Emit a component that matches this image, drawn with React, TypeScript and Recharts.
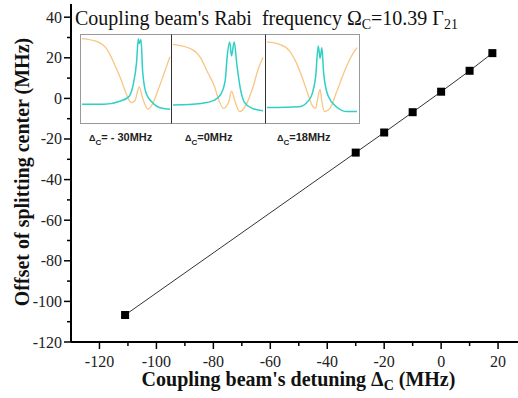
import React from "react"
import { ComposedChart, LineChart, Line, XAxis, YAxis } from "recharts"

// main series: coupling detuning vs splitting centre offset (MHz)
const detuning = [-111, -30, -20, -10, 0, 10, 18]
const offset = [-106.7, -26.7, -16.8, -6.8, 3.3, 13.6, 22.3]

const xTicks = [-120, -110, -100, -90, -80, -70, -60, -50, -40, -30, -20, -10, 0, 10, 20]
const xLabels = [-120, -100, -80, -60, -40, -20, 0, 20]
const yTicks = [-120, -110, -100, -90, -80, -70, -60, -50, -40, -30, -20, -10, 0, 10, 20, 30, 40]
const yLabels = [-120, -100, -80, -60, -40, -20, 0, 20, 40]

// inset spectra (relative units, 0-100)
const p1OrangeX = [0, 18, 29, 36, 44, 51, 56, 60, 65, 69, 75, 80, 87, 95, 100]
const p1OrangeY = [98, 94, 84, 69, 49, 29, 20, 22, 39, 25, 12, 18, 37, 61, 76]
const p1CyanX = [0, 25, 44, 53, 58, 62, 64, 65, 67, 69, 73, 80, 91, 100]
const p1CyanY = [18, 18, 22, 27, 41, 69, 98, 92, 97, 57, 31, 20, 13, 12]

const p2OrangeX = [0, 21, 31, 38, 46, 51, 56, 62, 65, 69, 74, 81, 88, 95, 100]
const p2OrangeY = [91, 85, 74, 58, 40, 23, 13, 21, 34, 21, 9, 17, 36, 62, 75]
const p2CyanX = [0, 31, 46, 53, 58, 60, 63, 65, 68, 71, 75, 79, 88, 100]
const p2CyanY = [17, 19, 23, 30, 47, 74, 94, 77, 94, 66, 36, 21, 13, 10]

const p3OrangeX = [0, 14, 25, 32, 39, 45, 50, 54, 56, 59, 61, 64, 70, 77, 86, 93, 100]
const p3OrangeY = [94, 91, 83, 70, 51, 32, 17, 13, 23, 36, 21, 9, 13, 32, 58, 75, 87]
const p3CyanX = [0, 36, 45, 50, 54, 57, 59, 61, 63, 68, 77, 89, 100]
const p3CyanY = [14, 15, 21, 30, 51, 89, 74, 87, 55, 28, 15, 9, 9]

const insetLabels = ["= - 30MHz", "=0MHz", "=18MHz"]

const zip = (xs: number[], ys: number[]) => xs.map((x, i) => ({ x, y: ys[i] }))

const mainData = zip(detuning, offset)

const panels = [
  { left: 80, width: 92, orange: zip(p1OrangeX, p1OrangeY), cyan: zip(p1CyanX, p1CyanY), labelLeft: 89, rightColor: "#333" },
  { left: 172, width: 94, orange: zip(p2OrangeX, p2OrangeY), cyan: zip(p2CyanX, p2CyanY), labelLeft: 185, rightColor: "#333" },
  { left: 266, width: 94, orange: zip(p3OrangeX, p3OrangeY), cyan: zip(p3CyanX, p3CyanY), labelLeft: 277, rightColor: "#999" },
]

const SERIF = "Liberation Serif"

const XTick = (props: any) => {
  const { x, y, payload } = props
  const major = xLabels.includes(payload.value)
  return (
    <g fontFamily={SERIF}>
      <line x1={x} x2={x} y1={y} y2={y + (major ? 7 : 4)} stroke="#000" strokeWidth={1.5} />
      {major && (
        <text x={x} y={y + 19} textAnchor="middle" dominantBaseline="central" fontSize={16} fill="#222" fontFamily={SERIF}>
          {payload.value}
        </text>
      )}
    </g>
  )
}

const YTick = (props: any) => {
  const { x, y, payload } = props
  const major = yLabels.includes(payload.value)
  return (
    <g fontFamily={SERIF}>
      <line x1={x} x2={x - (major ? 7 : 4)} y1={y} y2={y} stroke="#000" strokeWidth={1.5} />
      {major && (
        <text x={x - 9} y={y} textAnchor="end" dominantBaseline="central" fontSize={16} fill="#222" fontFamily={SERIF}>
          {payload.value}
        </text>
      )}
    </g>
  )
}

const Square = (props: any) => {
  const { cx, cy } = props
  return <rect x={cx - 4} y={cy - 4} width={8} height={8} fill="#000" />
}

const sub = { fontSize: 14, position: "relative" as const, top: 4 }

export default function App() {
  return (
    <div style={{ position: "absolute", left: 0, top: 0, width: 518, height: 398, overflow: "hidden", background: "#fff", fontFamily: SERIF }}>
      <ComposedChart width={518} height={398} data={mainData} margin={{ top: 4, right: 0, bottom: 0, left: 0 }}>
        <XAxis
          dataKey="x"
          type="number"
          domain={[-130, 27]}
          ticks={xTicks}
          interval={0}
          tick={<XTick />}
          tickLine={false}
          tickSize={0}
          tickMargin={0}
          height={56}
          axisLine={{ stroke: "#000", strokeWidth: 2 }}
          allowDataOverflow
        />
        <XAxis xAxisId="top" orientation="top" type="number" domain={[-130, 27]} height={0} tick={false} tickLine={false} axisLine={{ stroke: "#000", strokeWidth: 2 }} />
        <YAxis
          type="number"
          domain={[-120, 46.5]}
          ticks={yTicks}
          interval={0}
          tick={<YTick />}
          tickLine={false}
          tickSize={0}
          tickMargin={0}
          width={71}
          axisLine={{ stroke: "#000", strokeWidth: 2 }}
          allowDataOverflow
        />
        <Line dataKey="y" type="linear" stroke="#333" strokeWidth={1} dot={<Square />} activeDot={false} isAnimationActive={false} />
      </ComposedChart>

      <div style={{ position: "absolute", left: 75, top: 8, fontSize: 20, lineHeight: 1, whiteSpace: "nowrap", color: "#111" }}>
        Coupling beam's Rabi&nbsp; frequency Ω<span style={sub}>C</span>=10.39 Γ<span style={sub}>21</span>
      </div>

      {panels.map((p, i) => (
        <div key={i}>
          <div
            style={{
              position: "absolute",
              left: p.left,
              top: 34,
              width: p.width,
              height: 90,
              boxSizing: "border-box",
              borderTop: "1px solid #999",
              borderBottom: "1px solid #999",
              borderLeft: i === 0 ? "1px solid #999" : "none",
              borderRight: "1px solid " + p.rightColor,
              background: "#fff",
            }}
          >
            <LineChart width={p.width - 2} height={86} margin={{ top: 2, right: 1, bottom: 2, left: 1 }}>
              <XAxis dataKey="x" type="number" domain={[0, 100]} hide />
              <YAxis type="number" domain={[0, 100]} hide />
              <Line data={p.orange} dataKey="y" type="monotone" stroke="#f8c684" strokeWidth={1.3} dot={false} isAnimationActive={false} />
              <Line data={p.cyan} dataKey="y" type="monotone" stroke="#2fd0c6" strokeWidth={1.5} dot={false} isAnimationActive={false} />
            </LineChart>
          </div>
          <div style={{ position: "absolute", left: p.labelLeft, top: 132, fontFamily: "'Liberation Sans', sans-serif", fontWeight: "bold", fontSize: 11, lineHeight: 1, whiteSpace: "nowrap", color: "#222" }}>
            <span style={{ fontSize: 9 }}>Δ</span>
            <span style={{ fontSize: 8, position: "relative", top: 4 }}>C</span>
            {insetLabels[i]}
          </div>
        </div>
      ))}

      <div style={{ position: "absolute", left: 0, width: 597, top: 369, fontSize: 20, fontWeight: "bold", lineHeight: 1, textAlign: "center", whiteSpace: "nowrap", color: "#111" }}>
        Coupling beam's detuning Δ<span style={sub}>C</span> (MHz)
      </div>

      <div
        style={{
          position: "absolute",
          left: 22 - 170,
          top: 172 - 10,
          width: 340,
          fontSize: 20,
          fontWeight: "bold",
          lineHeight: 1,
          textAlign: "center",
          whiteSpace: "nowrap",
          color: "#111",
          transform: "rotate(-90deg)",
          transformOrigin: "50% 50%",
        }}
      >
        Offset of splitting center (MHz)
      </div>
    </div>
  )
}
